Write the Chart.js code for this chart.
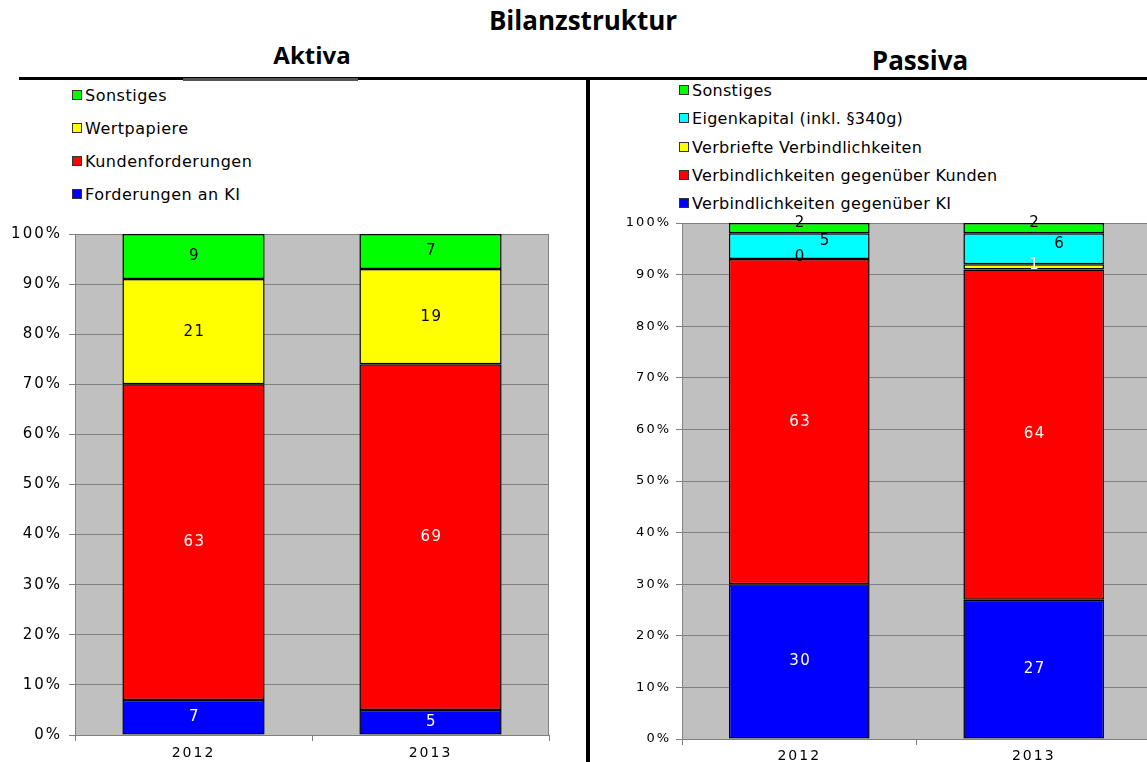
<!DOCTYPE html>
<html>
<head>
<meta charset="utf-8">
<script src="https://cdn.jsdelivr.net/npm/chart.js@4.4.1/dist/chart.umd.min.js"></script>
<style>
  html, body { margin: 0; padding: 0; background: #fff; overflow: hidden; width: 1147px; height: 762px; }
  .titel { position: absolute; font-family: "Open Sans", sans-serif; font-weight: bold; color: #000; white-space: nowrap; line-height: 34px; }
  .linie { position: absolute; background: #000; }
  .box { position: absolute; }
  .legende { position: absolute; font-family: "DejaVu Sans", sans-serif; font-size: 16px; letter-spacing: 0.3px; color: #000; }
  .legende div { position: absolute; white-space: nowrap; line-height: 18px; }
  .legende span { display: inline-block; width: 8px; height: 8px; border: 1px solid #333; margin-right: 3px; vertical-align: 1px; }
</style>
</head>
<body>
<div class="titel" style="left:0;width:1166px;text-align:center;top:3px;font-size:26px;">Bilanzstruktur</div>
<div class="titel" style="left:212px;width:200px;text-align:center;top:38px;font-size:24px;">Aktiva</div>
<div class="titel" style="left:820px;width:200px;text-align:center;top:43px;font-size:26px;">Passiva</div>
<div class="linie" style="left:19px;top:77px;width:1128px;height:3px;"></div>
<div class="linie" style="left:183px;top:78px;width:175px;height:3px;background:#555;"></div>
<div class="linie" style="left:586px;top:78px;width:4px;height:684px;"></div>

<div class="legende" id="legendeAktiva" style="left:72px;top:0;letter-spacing:0.5px;"></div>
<div class="legende" id="legendePassiva" style="left:679px;top:0;"></div>

<div class="box" style="left:0;top:218px;width:560px;height:544px;"><canvas id="aktiva"></canvas></div>
<div class="box" style="left:600px;top:210px;width:560px;height:552px;"><canvas id="passiva"></canvas></div>

<script>
// Daten
const jahre = ["2012", "2013"];

const aktivaKI = [7, 5];
const aktivaKunden = [63, 69];
const aktivaWertpapiere = [21, 19];
const aktivaSonstiges = [9, 7];

const passivaKI = [30, 27];
const passivaKunden = [63, 64];
const passivaVerbrieft = [0, 1];
const passivaEigenkapital = [5, 6];
const passivaSonstiges = [2, 2];

const BLAU = "#0000ff", ROT = "#ff0000", GELB = "#ffff00", GRUEN = "#00ff00", CYAN = "#00ffff";

// Hintergrund + Rahmen der Zeichenfläche, Beschriftung der Segmente
const flaechePlugin = {
  id: "flaeche",
  beforeDraw(chart) {
    const { ctx, chartArea: a } = chart;
    ctx.letterSpacing = "2px"; // Schrift im Original breiter
    ctx.save();
    ctx.fillStyle = "#c0c0c0";
    ctx.fillRect(a.left, a.top, a.right - a.left, a.bottom - a.top);
    ctx.restore();
  },
  afterDraw(chart) {
    const { ctx, chartArea: a } = chart;
    ctx.save();
    ctx.strokeStyle = "#808080";
    ctx.lineWidth = 1;
    ctx.beginPath();
    ctx.moveTo(a.right - 0.5, a.top);
    ctx.lineTo(a.right - 0.5, a.bottom);
    ctx.stroke();
    ctx.restore();
  },
  afterDatasetsDraw(chart) {
    const ctx = chart.ctx;
    ctx.save();
    ctx.font = "15px 'DejaVu Sans'";
    ctx.letterSpacing = "1.5px";
    ctx.textAlign = "center";
    ctx.textBaseline = "middle";
    chart.data.datasets.forEach((ds, i) => {
      const meta = chart.getDatasetMeta(i);
      const off = ds.labelOffset || [0, 0];
      meta.data.forEach((el, j) => {
        ctx.fillStyle = ds.labelColors[j];
        ctx.fillText(String(ds.data[j]), el.x + off[0] + 1, (el.y + el.base) / 2 + off[1]);
      });
    });
    ctx.restore();
  }
};

function optionen(yBreite, xHoehe, padTop, padRight, xPad, ySize, yPad) {
  return {
    responsive: true,
    maintainAspectRatio: false,
    animation: false,
    layout: { padding: { top: padTop, right: padRight, left: 0, bottom: 0 } },
    plugins: { legend: { display: false }, tooltip: { enabled: false } },
    scales: {
      x: {
        stacked: true,
        afterFit(s) { s.height = xHoehe; },
        border: { color: "#808080" },
        grid: { drawOnChartArea: false, drawTicks: true, tickLength: 6, color: "#808080", offset: true },
        ticks: { color: "#000", font: { family: "DejaVu Sans", size: 14 }, padding: xPad }
      },
      y: {
        stacked: true,
        min: 0,
        max: 100,
        afterFit(s) { s.width = yBreite; },
        border: { color: "#808080" },
        grid: { color: "#808080", tickLength: 6 },
        ticks: { stepSize: 10, color: "#000", font: { family: "DejaVu Sans", size: ySize }, padding: yPad, callback: (v) => v + "%" }
      }
    }
  };
}

function balken(label, data, farbe, labelColors, labelOffset) {
  return {
    label, data,
    backgroundColor: farbe,
    borderColor: "#000",
    borderWidth: 1.5,
    borderSkipped: false,
    barPercentage: 0.6,
    categoryPercentage: 1,
    labelColors, labelOffset
  };
}

const aktivaDatensaetze = [
  balken("Forderungen an KI", aktivaKI, BLAU, ["#fff", "#fff"]),
  balken("Kundenforderungen", aktivaKunden, ROT, ["#fff", "#fff"]),
  balken("Wertpapiere", aktivaWertpapiere, GELB, ["#000", "#000"]),
  balken("Sonstiges", aktivaSonstiges, GRUEN, ["#000", "#000"])
];

const passivaDatensaetze = [
  balken("Verbindlichkeiten gegenüber KI", passivaKI, BLAU, ["#fff", "#fff"]),
  balken("Verbindlichkeiten gegenüber Kunden", passivaKunden, ROT, ["#fff", "#fff"]),
  balken("Verbriefte Verbindlichkeiten", passivaVerbrieft, GELB, ["#000", "#fff"], [0, -2]),
  balken("Eigenkapital (inkl. §340g)", passivaEigenkapital, CYAN, ["#000", "#000"], [25, -5]),
  balken("Sonstiges", passivaSonstiges, GRUEN, ["#000", "#000"], [0, -5])
];

new Chart(document.getElementById("aktiva"), {
  type: "bar",
  data: { labels: jahre, datasets: aktivaDatensaetze },
  options: optionen(75, 27, 12, 11, 4, 15, 7),
  plugins: [flaechePlugin]
});

new Chart(document.getElementById("passiva"), {
  type: "bar",
  data: { labels: jahre, datasets: passivaDatensaetze },
  options: optionen(82, 23, 13, 9, 3, 13, 5),
  plugins: [flaechePlugin]
});

// Legenden (umgekehrte Reihenfolge, wie im Original)
function legende(id, datensaetze, startY, abstand) {
  const el = document.getElementById(id);
  datensaetze.slice().reverse().forEach((ds, i) => {
    const zeile = document.createElement("div");
    zeile.style.top = (startY + i * abstand - 9) + "px";
    zeile.innerHTML = '<span style="background:' + ds.backgroundColor + '"></span>' + ds.label;
    el.appendChild(zeile);
  });
}
legende("legendeAktiva", aktivaDatensaetze, 96, 33);
legende("legendePassiva", passivaDatensaetze, 91, 28.3);
</script>
</body>
</html>
